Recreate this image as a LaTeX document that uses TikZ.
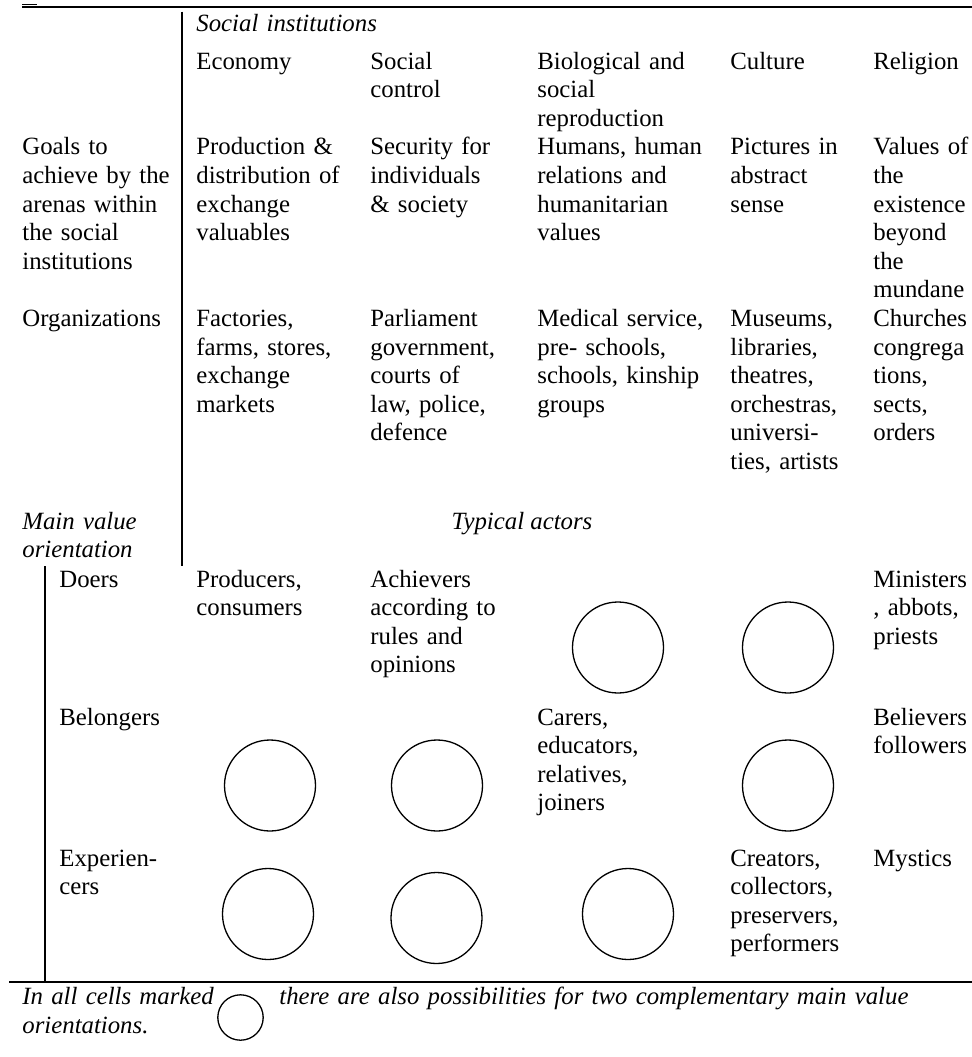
\documentclass[tikz,border=0pt]{standalone}
\usepackage{fontspec}
\setmainfont{Liberation Serif}
\newcommand\cellfont{\fontsize{12.4}{14.3}\selectfont}
\tikzset{
  cell/.style={anchor=base west, inner sep=0pt, text width=130pt, align=left, font=\cellfont},
  icell/.style={cell, font=\cellfont\itshape},
  hrule/.style={line width=1pt},
  ring/.style={draw, circle, line width=0.65pt, minimum size=45.5pt, inner sep=0pt},
}
\begin{document}
\begin{tikzpicture}[x=0.5pt,y=-0.5pt]
\useasboundingbox (0,0) rectangle (972,1057);
% rules
\coordinate (tl) at (22,6.7); \coordinate (tr) at (972,6.7);
\coordinate (vt) at (182,11.7); \coordinate (vb) at (182,566);
\coordinate (lt) at (45,566); \coordinate (lb) at (45,982);
\coordinate (bl) at (9,982); \coordinate (br) at (972,982);
\coordinate (dl) at (22,4.5); \coordinate (dr) at (37,4.5);
\draw[hrule] (tl) -- (tr);
\draw[line width=0.7pt] (dl) -- (dr);
\draw[hrule] (vt) -- (vb);
\draw[hrule] (lt) -- (lb);
\draw[hrule] (bl) -- (br);
% header
\node[icell] (si) at (196,31) {Social institutions};
\node[cell] (h1) at (196,69) {Economy};
\node[cell] (h2) at (370,69) {Social\\control};
\node[cell] (h3) at (537,69) {Biological and\\social\\reproduction};
\node[cell] (h4) at (730,69) {Culture};
\node[cell] (h5) at (873,69) {Religion};
% goals
\node[cell] (g0) at (22,154.8) {Goals to\\achieve by the\\arenas within\\the social\\institutions};
\node[cell] (g1) at (196,154.8) {Production \&\\distribution of\\exchange\\valuables};
\node[cell] (g2) at (370,154.8) {Security for\\individuals\\\& society};
\node[cell] (g3) at (537,154.8) {Humans, human\\relations and\\humanitarian\\values};
\node[cell] (g4) at (730,154.8) {Pictures in\\abstract\\sense};
\node[cell] (g5) at (873,154.8) {Values of\\the\\existence\\beyond\\the\\mundane};
% organizations
\node[cell] (o0) at (22,326.4) {Organizations};
\node[cell] (o1) at (196,326.4) {Factories,\\farms, stores,\\exchange\\markets};
\node[cell] (o2) at (370,326.4) {Parliament\\government,\\courts of\\law, police,\\defence};
\node[cell] (o3) at (537,326.4) {Medical service,\\pre- schools,\\schools, kinship\\groups};
\node[cell] (o4) at (730,326.4) {Museums,\\libraries,\\theatres,\\orchestras,\\universi-\\ties, artists};
\node[cell] (o5) at (873,326.4) {Churches\\congrega\\tions,\\sects,\\orders};
% main value orientation
\node[icell] (mv) at (22,529) {Main value\\orientation};
\node[anchor=base, inner sep=0pt, font=\cellfont\itshape] (ta) at (522,529) {Typical actors};
% doers
\node[cell] (d0) at (59,587) {Doers};
\node[cell] (d1) at (196,587) {Producers,\\consumers};
\node[cell] (d2) at (370,587) {Achievers\\according to\\rules and\\opinions};
\node[ring] (d3) at (618,647.5) {};
\node[ring] (d4) at (788,647.5) {};
\node[cell] (d5) at (873,587) {Ministers\\, abbots,\\priests};
% belongers
\node[cell] (b0) at (59,725) {Belongers};
\node[ring] (b1) at (270,785.5) {};
\node[ring] (b2) at (437,785.5) {};
\node[cell] (b3) at (537,725) {Carers,\\educators,\\relatives,\\joiners};
\node[ring] (b4) at (788,785.5) {};
\node[cell] (b5) at (873,725) {Believers\\followers};
% experiencers
\node[cell] (e0) at (59,866) {Experien-\\cers};
\node[ring] (e1) at (268,914) {};
\node[ring] (e2) at (436.5,918) {};
\node[ring] (e3) at (628,914) {};
\node[cell] (e4) at (730,866) {Creators,\\collectors,\\preservers,\\performers};
\node[cell] (e5) at (873,866) {Mystics};
% footer
\node[icell] (f1) at (22,1004.5) {In all cells marked\\orientations.};
\node[ring, minimum size=22.7pt] (fc) at (240.5,1017.5) {};
\node[icell, text width=400pt] (f2) at (279,1004.5) {there are also possibilities for two complementary main value};
\end{tikzpicture}
\end{document}
